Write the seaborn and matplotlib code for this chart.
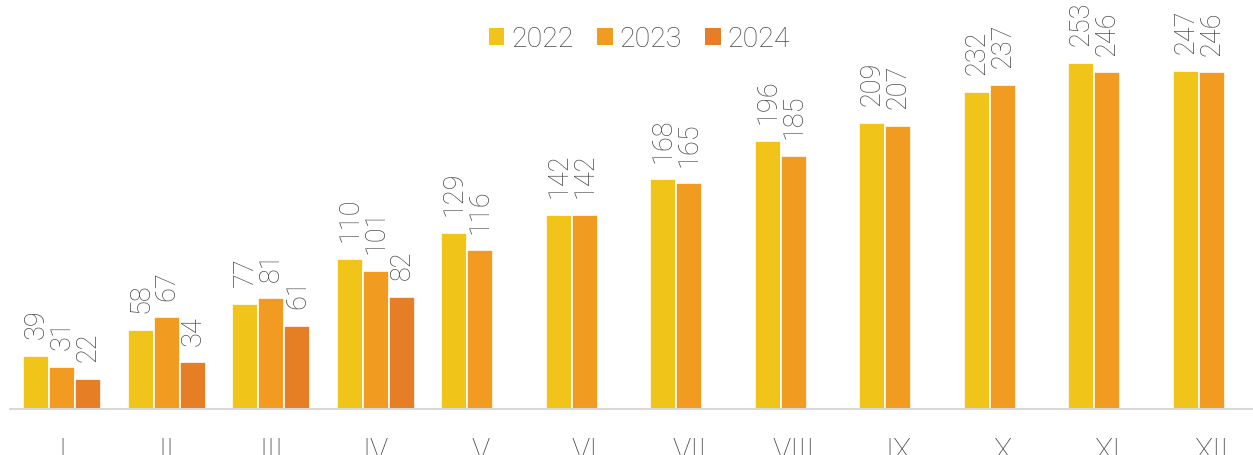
import pandas as pd
import matplotlib
matplotlib.use("Agg")
import matplotlib.pyplot as plt
import seaborn as sns

months = ["I", "II", "III", "IV", "V", "VI", "VII", "VIII", "IX", "X", "XI", "XII"]
years = ["2022", "2023", "2024"]
v2022 = [39, 58, 77, 110, 129, 142, 168, 196, 209, 232, 253, 247]
v2023 = [31, 67, 81, 101, 116, 142, 165, 185, 207, 237, 246, 246]
v2024 = [22, 34, 61, 82]
colors = ["#F0C419", "#F19C21", "#E57E25"]

rows = []
for year, vals in zip(years, [v2022, v2023, v2024]):
    for m, v in zip(months, vals):
        rows.append({"month": m, "year": year, "value": v})
df = pd.DataFrame(rows)

sns.set_style("white")
plt.rcParams["font.family"] = ["Roboto", "DejaVu Sans"]
text_gray = "#4A4A4A"

fig = plt.figure(figsize=(12.53, 4.55), dpi=100)
ax = fig.add_axes([10 / 1253, 46 / 455, 1254 / 1253, 409 / 455])

sns.barplot(data=df, x="month", y="value", hue="year", order=months,
            hue_order=years, palette=colors, saturation=1, width=0.75,
            errorbar=None, edgecolor="white", linewidth=1.2, ax=ax)

# rotated value labels above each bar
for cont in ax.containers:
    ax.bar_label(cont, fmt="%d", rotation=90, padding=12, fontsize=19.5,
                 color=text_gray, fontweight="light")

ax.set_ylim(0, 299)
ax.set_xlim(-0.5, 11.5)
ax.set_xlabel("")
ax.set_ylabel("")
ax.set_yticks([])
for s in ["top", "right", "left"]:
    ax.spines[s].set_visible(False)
ax.spines["bottom"].set_color("#D9D9D9")
ax.spines["bottom"].set_linewidth(1.5)
ax.tick_params(axis="x", length=0, pad=20, labelsize=22, labelcolor=text_gray)
for lbl in ax.get_xticklabels():
    lbl.set_fontweight("light")

leg = ax.legend(loc="upper center", bbox_to_anchor=(0.502, 1.0), ncol=3,
                frameon=False, fontsize=20.5, handlelength=0.55, handleheight=0.55,
                handletextpad=0.25, columnspacing=0.8)
for t in leg.get_texts():
    t.set_color(text_gray)
    t.set_fontweight("light")
for h in leg.legend_handles:
    h.set_edgecolor("none")

fig.savefig("out.png", dpi=100)
